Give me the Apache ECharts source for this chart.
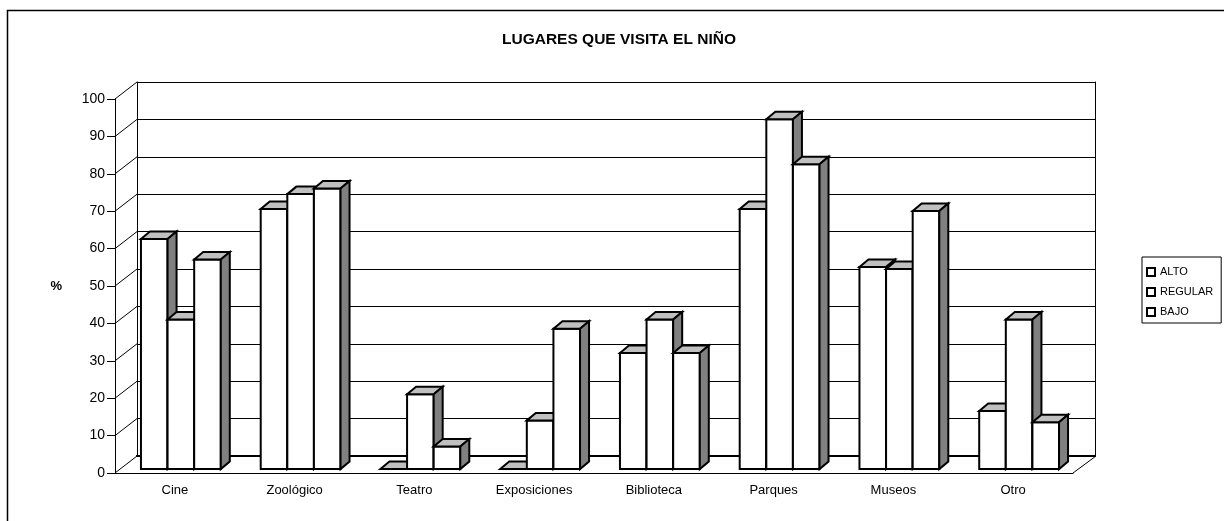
<!DOCTYPE html>
<html>
<head>
<meta charset="utf-8">
<title>Lugares que visita el niño</title>
<script src="https://cdn.jsdelivr.net/npm/echarts@6/dist/echarts.min.js"></script>
<style>
  html, body { margin: 0; padding: 0; background: #fff; }
  #chart { width: 1224px; height: 521px; }
</style>
</head>
<body>
<div id="chart"></div>
<script>
// data (percent)
const categories = ['Cine', 'Zoológico', 'Teatro', 'Exposiciones', 'Biblioteca', 'Parques', 'Museos', 'Otro']
const seriesNames = ['ALTO', 'REGULAR', 'BAJO']
const alto = [61.5, 69.5, 0, 0, 31, 69.5, 54, 15.5]
const regular = [40, 73.5, 20, 13, 40, 93.5, 53.5, 40]
const bajo = [56, 75, 6, 37.5, 31, 81.5, 69, 12.5]
const yTicks = [0, 10, 20, 30, 40, 50, 60, 70, 80, 90, 100]

// 3d look: wall depth, where the bars stand, and bar depth
const WALL = [22, -17]
const BAR_SHIFT = [6, -4]
const BAR_DEPTH = [9, -7.5]
const FONT = '"Liberation Sans", Arial, sans-serif'

const chart = echarts.init(document.getElementById('chart'))

const barRender = (slot) => (params, api) => {
  const i = api.value(0)
  const v = api.value(1)
  const band = api.size([1, 0])[0]
  const base = api.coord([i, 0])
  const top = api.coord([i, v])
  const w = band * 2 / 9
  const x0 = base[0] - band / 3 + slot * w + BAR_SHIFT[0]
  const x1 = x0 + w
  const yb = base[1] + BAR_SHIFT[1]
  const yt = top[1] + BAR_SHIFT[1]
  const [dx, dy] = BAR_DEPTH
  const line = { stroke: '#000', lineWidth: 2, lineJoin: 'miter' }
  return {
    type: 'group',
    children: [
      { type: 'rect', shape: { x: x0, y: yt, width: w, height: yb - yt }, style: { fill: '#fff', ...line } },
      { type: 'polygon', shape: { points: [[x0, yt], [x0 + dx, yt + dy], [x1 + dx, yt + dy], [x1, yt]] }, style: { fill: '#c0c0c0', ...line } },
      { type: 'polygon', shape: { points: [[x1, yt], [x1 + dx, yt + dy], [x1 + dx, yb + dy], [x1, yb]] }, style: { fill: '#808080', ...line } }
    ]
  }
}

// left wall diagonals and the floor's right edge
const frameRender = (params, api) => {
  const v = api.value(1)
  const band = api.size([1, 0])[0]
  const p = api.coord([0, v])
  const left = p[0] - band / 2
  const children = [
    { type: 'line', shape: { x1: left, y1: p[1], x2: left + WALL[0], y2: p[1] + WALL[1] }, style: { stroke: '#000', lineWidth: 1 } }
  ]
  if (v === 0) {
    const right = api.coord([categories.length - 1, 0])[0] + band / 2
    children.push({ type: 'line', shape: { x1: right, y1: p[1], x2: right + WALL[0] + 1, y2: p[1] + WALL[1] }, style: { stroke: '#000', lineWidth: 1 } })
  }
  return { type: 'group', children }
}

const values = [alto, regular, bajo]

const option = {
  animation: false,
  backgroundColor: '#fff',
  textStyle: { fontFamily: FONT, color: '#000' },
  title: {
    text: 'LUGARES QUE VISITA EL NIÑO',
    left: 497,
    top: 27,
    textStyle: { fontFamily: FONT, fontSize: 15.5, fontWeight: 'bold', color: '#000' }
  },
  graphic: [
    { type: 'rect', shape: { x: 7.5, y: 10.5, width: 1300, height: 600 }, style: { fill: 'none', stroke: '#000', lineWidth: 1.5 }, silent: true }
  ],
  legend: {
    data: seriesNames,
    orient: 'vertical',
    left: 1142,
    top: 257,
    padding: [9, 8, 5, 4],
    itemWidth: 8,
    itemHeight: 8,
    itemGap: 8,
    icon: 'rect',
    selectedMode: false,
    borderColor: '#000',
    borderWidth: 1,
    itemStyle: { color: '#fff', borderColor: '#000', borderWidth: 2 },
    textStyle: { fontFamily: FONT, fontSize: 11, lineHeight: 12, color: '#000' }
  },
  grid: [
    { left: 115, right: 151, top: 99, bottom: 48 },
    { left: 115 + WALL[0], right: 151 - WALL[0], top: 99 + WALL[1], bottom: 48 - WALL[1] }
  ],
  xAxis: [
    {
      type: 'category',
      gridIndex: 0,
      data: categories,
      axisLine: { lineStyle: { color: '#000', width: 1 } },
      axisTick: { length: 7, lineStyle: { color: '#000' } },
      axisLabel: { interval: 0, margin: 11, fontSize: 13, color: '#000', fontFamily: FONT }
    },
    {
      type: 'category',
      gridIndex: 1,
      data: categories,
      axisLine: { lineStyle: { color: '#000', width: 2 } },
      axisTick: { show: false },
      axisLabel: { show: false }
    },
    {
      type: 'category',
      gridIndex: 1,
      position: 'top',
      data: categories,
      axisLine: { lineStyle: { color: '#000', width: 2 } },
      axisTick: { show: false },
      axisLabel: { show: false }
    }
  ],
  yAxis: [
    {
      type: 'value',
      gridIndex: 0,
      min: 0,
      max: 100,
      interval: 10,
      name: '%',
      nameLocation: 'middle',
      nameRotate: 0,
      nameGap: 53,
      nameTextStyle: { fontFamily: FONT, fontSize: 13, fontWeight: 'bold', color: '#000' },
      axisLine: { show: true, lineStyle: { color: '#000', width: 1 } },
      axisTick: { show: true, length: 8, lineStyle: { color: '#000' } },
      axisLabel: { margin: 10, fontSize: 14, color: '#000', fontFamily: FONT },
      splitLine: { show: false }
    },
    {
      type: 'value',
      gridIndex: 1,
      min: 0,
      max: 100,
      interval: 10,
      axisLine: { show: true, lineStyle: { color: '#000', width: 1 } },
      axisTick: { show: false },
      axisLabel: { show: false },
      splitLine: { show: true, lineStyle: { color: '#000', width: 1 } }
    },
    {
      type: 'value',
      gridIndex: 1,
      position: 'right',
      min: 0,
      max: 100,
      interval: 10,
      axisLine: { show: true, lineStyle: { color: '#000', width: 1 } },
      axisTick: { show: false },
      axisLabel: { show: false },
      splitLine: { show: false }
    }
  ],
  series: [
    {
      type: 'custom',
      xAxisIndex: 0,
      yAxisIndex: 0,
      clip: false,
      silent: true,
      z: 1,
      renderItem: frameRender,
      data: yTicks.map(v => [0, v])
    },
    ...seriesNames.map((name, s) => ({
      name,
      type: 'custom',
      xAxisIndex: 0,
      yAxisIndex: 0,
      clip: false,
      z: 2 + s,
      itemStyle: { color: '#fff', borderColor: '#000' },
      renderItem: barRender(s),
      data: values[s].map((v, i) => [i, v])
    }))
  ]
}

chart.setOption(option)
</script>
</body>
</html>
